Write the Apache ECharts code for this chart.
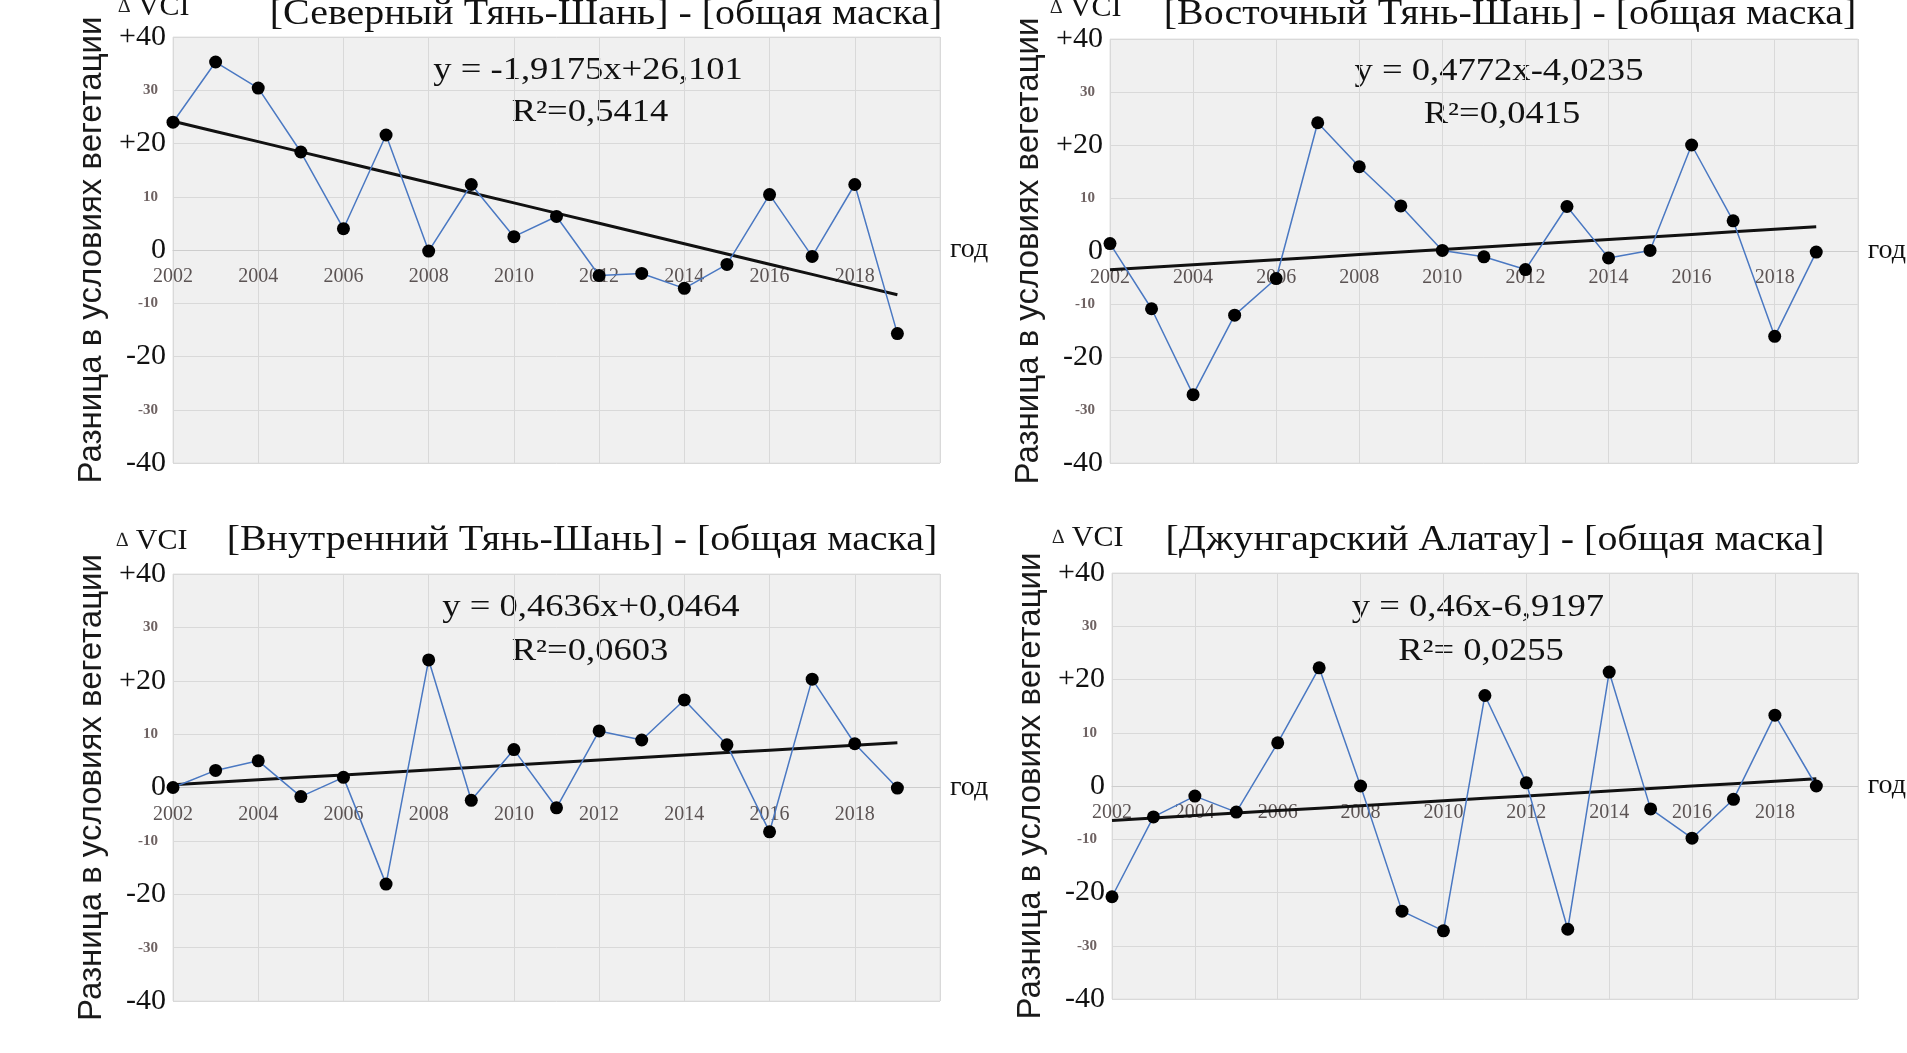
<!DOCTYPE html>
<html>
<head>
<meta charset="utf-8">
<script src="https://cdn.jsdelivr.net/npm/echarts@6/dist/echarts.min.js"></script>
<style>
  html, body { margin: 0; padding: 0; background: #fff; }
  #chart { width: 1907px; height: 1053px; }
</style>
</head>
<body>
<div id="chart"></div>
<script>
// годы и значения ΔVCI по регионам
var years = [2002, 2003, 2004, 2005, 2006, 2007, 2008, 2009, 2010, 2011, 2012, 2013, 2014, 2015, 2016, 2017, 2018, 2019];
var northVci = [24, 35.3, 30.4, 18.4, 4.0, 21.6, -0.2, 12.3, 2.5, 6.3, -4.8, -4.4, -7.2, -2.7, 10.4, -1.2, 12.3, -15.7];
var eastVci = [1.4, -10.9, -27.1, -12.1, -5.2, 24.2, 15.9, 8.5, 0.1, -1.1, -3.5, 8.4, -1.3, 0.1, 20.0, 5.7, -16.1, -0.2];
var innerVci = [0, 3.2, 5.0, -1.7, 1.9, -18.1, 23.9, -2.4, 7.1, -3.8, 10.6, 8.9, 16.4, 8.0, -8.3, 20.3, 8.2, -0.1];
var dzhVci = [-20.8, -5.8, -1.9, -4.9, 8.1, 22.2, 0, -23.5, -27.2, 17.0, 0.6, -26.9, 21.4, -4.3, -9.8, -2.5, 13.3, 0];

// линейный тренд (коэффициенты из подписей)
var slopes = [-1.9175, 0.4772, 0.4636, 0.46];
var intercepts = [26.101, -4.0235, 0.0464, -6.9197];
var equations = ['y = -1,9175x+26,101', 'y = 0,4772x-4,0235', 'y = 0,4636x+0,0464', 'y = 0,46x-6,9197'];
var r2Texts = ['R\u00b2=0,5414', 'R\u00b2=0,0415', 'R\u00b2=0,0603', 'R\u00b2= 0,0255'];
var titles = [
    '[Северный Тянь-Шань] - [общая маска]',
    '[Восточный Тянь-Шань] - [общая маска]',
    '[Внутренний Тянь-Шань] - [общая маска]',
    '[Джунгарский Алатау] - [общая маска]'
];

// подписи осей
var bigTicks = [-40, -20, 0, 20, 40];
var yName = 'Разница в условиях вегетации';
var xName = 'год';

var serif = 'Liberation Serif';
var allVci = [northVci, eastVci, innerVci, dzhVci];

// расположение панелей
var grids = [
    {left: 173, top: 37, width: 767, height: 426},
    {left: 1110, top: 39, width: 771, height: 424},
    {left: 173, top: 574, width: 767, height: 427},
    {left: 1112, top: 573, width: 769, height: 426}
];
var titlePos = [[606, 15], [1510, 15], [582, 541], [1495, 541]];
var vciPos = [[118, 7], [1050, 8], [116, 541], [1052, 538]];
var eqPos = [[588, 71], [1499, 72], [591, 608], [1478, 608]];
var r2Pos = [[590, 113], [1502, 115], [590, 652], [1481, 652]];

var myChart = echarts.init(document.getElementById('chart'));

var xAxes = [], yAxes = [], series = [], graphics = [];

for (var i = 0; i < 4; i++) {
    // ось X проходит через ноль: сдвигаем её от нижнего края на половину высоты
    xAxes.push({
        gridIndex: i,
        type: 'value',
        position: 'bottom',
        offset: -grids[i].height / 2,
        min: 2002,
        max: 2020,
        interval: 2,
        name: xName,
        nameLocation: 'end',
        nameGap: 10,
        nameTextStyle: {fontFamily: serif, fontSize: 28, color: '#111'},
        axisLine: {show: true, onZero: false, lineStyle: {color: '#cdcdcd', width: 1}},
        axisTick: {show: false},
        axisLabel: {
            margin: 17,
            fontFamily: serif,
            fontSize: 20,
            color: '#5b5353',
            formatter: function (v) { return v === 2020 ? '' : String(v); }
        },
        splitLine: {show: true, lineStyle: {color: '#d9d9d9'}}
    });
    yAxes.push({
        gridIndex: i,
        type: 'value',
        min: -40,
        max: 40,
        interval: 10,
        name: yName,
        nameLocation: 'middle',
        nameRotate: 90,
        nameGap: 65,
        nameTextStyle: {fontFamily: 'Liberation Sans', fontSize: 33, color: '#1a1a1a'},
        axisLine: {show: false},
        axisTick: {show: false},
        axisLabel: {
            margin: 7,
            formatter: function (v) {
                if (bigTicks.indexOf(v) >= 0) {
                    return '{b|' + (v > 0 ? '+' : '') + v + '}';
                }
                return '{s|' + v + '}';
            },
            rich: {
                b: {fontFamily: serif, fontSize: 30, color: '#111'},
                s: {fontFamily: serif, fontSize: 15, fontWeight: 'bold', color: '#6e6262', padding: [0, 8, 0, 0]}
            }
        },
        splitLine: {show: true, lineStyle: {color: '#d9d9d9'}}
    });

    var trend = years.map(function (y, k) { return [y, slopes[i] * (k + 1) + intercepts[i]]; });
    var pts = years.map(function (y, k) { return [y, allVci[i][k]]; });

    series.push({
        type: 'line',
        xAxisIndex: i,
        yAxisIndex: i,
        data: trend,
        symbol: 'none',
        lineStyle: {color: '#111', width: 3},
        z: 2
    });
    series.push({
        type: 'line',
        xAxisIndex: i,
        yAxisIndex: i,
        data: pts,
        symbol: 'circle',
        symbolSize: 13,
        itemStyle: {color: '#000'},
        lineStyle: {color: '#4a78c2', width: 1.5},
        z: 3
    });

    graphics.push({
        type: 'text', x: titlePos[i][0], y: titlePos[i][1], scaleX: 1.14,
        style: {text: titles[i], font: '35px "Liberation Serif"', fill: '#111', align: 'center', verticalAlign: 'middle'}
    });
    graphics.push({
        type: 'text', x: vciPos[i][0], y: vciPos[i][1],
        style: {
            text: '{d|\u2206}{v| VCI}', align: 'left', verticalAlign: 'middle',
            rich: {
                d: {fontFamily: serif, fontSize: 20, fill: '#222'},
                v: {fontFamily: serif, fontSize: 30, fill: '#111'}
            }
        }
    });
    graphics.push({
        type: 'text', x: eqPos[i][0], y: eqPos[i][1], scaleX: 1.18,
        style: {text: equations[i], font: '31px "Liberation Serif"', fill: '#111', align: 'center', verticalAlign: 'middle'}
    });
    graphics.push({
        type: 'text', x: r2Pos[i][0], y: r2Pos[i][1], scaleX: 1.18,
        style: {text: r2Texts[i], font: '31px "Liberation Serif"', fill: '#111', align: 'center', verticalAlign: 'middle'}
    });
}

var option = {
    animation: false,
    backgroundColor: '#fff',
    textStyle: {fontFamily: serif},
    grid: grids.map(function (g) {
        return {
            left: g.left, top: g.top, width: g.width, height: g.height,
            show: true, backgroundColor: '#f0f0f0', borderColor: '#e2e2e2', borderWidth: 1
        };
    }),
    xAxis: xAxes,
    yAxis: yAxes,
    series: series,
    graphic: graphics
};
myChart.setOption(option);
window.addEventListener('resize', function () {
    myChart.resize();
});
</script>
</body>
</html>
